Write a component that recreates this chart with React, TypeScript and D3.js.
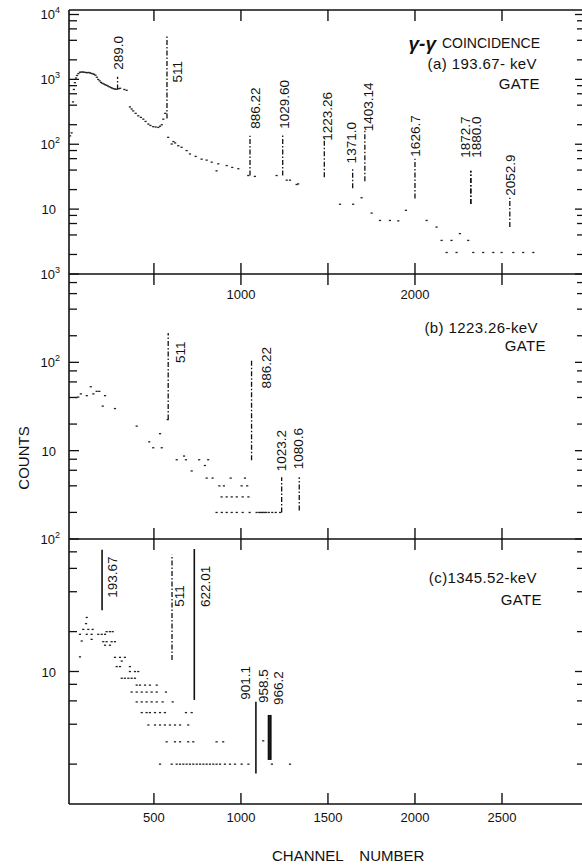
import React, { useRef, useEffect } from 'react';
import * as d3 from 'd3';

// spectrum points: [channel, counts]
const spectrumA: [number, number][] = [
  [18, 135], [27, 150], [35, 450], [40, 700], [46, 890], [52, 1050], [58, 1150], [66, 1230],
  [75, 1290], [84, 1300], [92, 1300], [100, 1290], [108, 1280], [116, 1270], [124, 1280],
  [132, 1260], [140, 1240], [148, 1220], [156, 1200], [164, 1160], [172, 1080], [180, 1000],
  [188, 950], [196, 900], [204, 870], [212, 850], [220, 830], [228, 810], [236, 790],
  [244, 770], [252, 750], [260, 735], [268, 720], [276, 710], [284, 705], [298, 720],
  [306, 730], [330, 700], [343, 680], [362, 377], [372, 350], [381, 327], [395, 300],
  [410, 275], [425, 260], [439, 244], [452, 225], [468, 205], [480, 195], [496, 187],
  [510, 185], [525, 182], [535, 190], [545, 200], [554, 244], [565, 300],
  [582, 128], [602, 101], [612, 110], [622, 105], [640, 95], [659, 90], [688, 80], [707, 71],
  [740, 65], [774, 59], [803, 57], [832, 53], [860, 39], [870, 50], [918, 47], [950, 44],
  [985, 42], [1042, 33], [1080, 32], [1205, 33], [1263, 28], [1282, 28], [1320, 24],
  [1329, 24.5], [1569, 11.9], [1645, 11.9], [1693, 15], [1751, 8.7], [1799, 6.7],
  [1856, 6.7], [1904, 6.6], [1948, 9.6], [2067, 6.7], [2124, 5.3], [2153, 3.3], [2210, 3.3],
  [2258, 4.2], [2306, 3.3], [2182, 2.15], [2239, 2.15], [2335, 2.15], [2392, 2.15],
  [2450, 2.15], [2498, 2.15], [2565, 2.15], [2622, 2.15], [2680, 2.15],
];

const spectrumB: [number, number][] = [
  [55, 40], [65, 40.5], [80, 44], [114, 42], [137, 53], [152, 44], [171, 47], [186, 47],
  [206, 32], [219, 42], [276, 30], [401, 19], [473, 12.6], [496, 10.8], [535, 15.6],
  [545, 10.8], [579, 22.5], [631, 7.9], [673, 8.7], [684, 7.9], [717, 5.9], [760, 7.9],
  [793, 6.8], [812, 7.9], [803, 4.9], [837, 4.9], [876, 4], [902, 4], [941, 4.9], [1004, 4],
  [1023, 4.9], [1036, 4], [889, 3], [918, 3], [947, 3], [976, 3], [1010, 3], [1043, 3],
  [860, 2], [890, 2], [918, 2], [947, 2], [976, 2], [1010, 2], [1050, 2], [1090, 2],
  [1105, 2], [1115, 2], [1125, 2], [1135, 2], [1145, 2], [1160, 2], [1180, 2], [1200, 2],
  [1225, 2],
];

const spectrumC: [number, number][] = [
  [114, 25.6], [110, 23], [94, 20.8], [123, 20.8], [148, 20.8], [75, 19.1], [114, 19.1],
  [142, 19.1], [180, 19.1], [200, 19.1], [219, 19.1], [228, 20], [247, 20], [263, 20],
  [85, 17], [142, 17.5], [209, 16.8], [228, 16.8], [257, 16.8], [276, 16.8], [219, 15.8],
  [247, 15.8], [75, 12.9], [276, 12.8], [305, 12.8], [333, 12.8], [315, 12], [286, 10.9],
  [305, 10.9], [362, 10.9], [362, 10], [391, 10], [410, 10], [315, 8.9], [333, 8.9],
  [353, 8.9], [372, 8.9], [391, 8.9], [401, 7.9], [420, 7.9], [449, 7.9], [477, 7.9],
  [516, 7.9], [372, 7], [401, 7], [430, 7], [458, 7], [487, 7], [516, 7], [569, 7],
  [401, 5.9], [430, 5.9], [458, 5.9], [487, 5.9], [516, 5.9], [550, 5.9], [608, 5.9],
  [430, 4.9], [458, 4.9], [477, 4.9], [506, 4.9], [535, 4.9], [563, 4.9], [684, 4.9],
  [717, 4.9], [468, 3.95], [506, 3.95], [535, 3.95], [563, 3.95], [592, 3.95], [621, 3.95],
  [650, 3.95], [697, 3.95], [573, 2.95], [621, 2.95], [650, 2.95], [697, 2.95], [726, 2.95],
  [860, 2.95], [898, 2.95], [1128, 3], [535, 2], [602, 2], [631, 2], [650, 2], [669, 2],
  [688, 2], [707, 2], [726, 2], [746, 2], [765, 2], [784, 2], [803, 2], [822, 2], [841, 2],
  [860, 2], [880, 2], [908, 2], [937, 2], [966, 2], [1004, 2], [1043, 2], [1178, 2], [1282, 2],
];

// gamma lines: label (keV), channel, counts at foot and at top
const peaksA = [
  { label: '289.0', ch: 291, lo: 700, hi: 1100 },
  { label: '511', ch: 575, lo: 250, hi: 4900 },
  { label: '886.22', ch: 1052, lo: 33, hi: 135 },
  { label: '1029.60', ch: 1240, lo: 33, hi: 145 },
  { label: '1223.26', ch: 1479, lo: 31, hi: 126 },
  { label: '1371.0', ch: 1642, lo: 21, hi: 44 },
  { label: '1403.14', ch: 1712, lo: 27, hi: 170 },
  { label: '1626.7', ch: 2000, lo: 14.6, hi: 60 },
  { label: '1872.7', ch: 2321, lo: 12, hi: 39 },
  { label: '1880.0', ch: 2321, lo: 12, hi: 39 },
  { label: '2052.9', ch: 2545, lo: 5.3, hi: 15 },
];
const peaksB = [
  { label: '511', ch: 582, lo: 22.5, hi: 215 },
  { label: '886.22', ch: 1061, lo: 7.8, hi: 108 },
  { label: '1023.2', ch: 1234, lo: 2, hi: 5 },
  { label: '1080.6', ch: 1335, lo: 2.1, hi: 5 },
];
const peaksC = [
  { label: '193.67', ch: 202, lo: 29, hi: 83 },
  { label: '511', ch: 604, lo: 12.2, hi: 76 },
  { label: '622.01', ch: 732, lo: 6.1, hi: 84 },
  { label: '901.1', ch: 1086, lo: 1.7, hi: 5.9 },
  { label: '958.5', ch: 1160, lo: 2.15, hi: 4.7 },
  { label: '966.2', ch: 1170, lo: 2.15, hi: 4.7 },
];

const solidPeaks = ['193.67', '622.01', '901.1', '958.5', '966.2'];
const heavyPeaks = ['958.5', '966.2'];

// label offsets from the top of each line [dx, dy]
const labelNudge: Record<string, [number, number]> = {
  'a511': [10, 48], 'a1223.26': [3, 3], 'a1371.0': [-1, -4], 'a1403.14': [3, 2],
  'a1626.7': [0, -2], 'a1872.7': [-5.5, -13], 'a1880.0': [5.5, -13], 'a2052.9': [0, -2],
  'a289.0': [0.5, -7], 'a886.22': [5, -7], 'a1029.60': [1.5, -5],
  'b511': [12, 30], 'b886.22': [15, 29], 'b1023.2': [0, -6], 'b1080.6': [-1, -8],
  'c193.67': [10, 48], 'c511': [7, 52], 'c622.01': [11, 58], 'c901.1': [-11, -2],
  'c958.5': [-6, -12], 'c966.2': [8, -10],
};

const xTicks = [500, 1000, 1500, 2000, 2500];
const xLabelsMid = [1000, 2000];
const xLabelsBottom = [500, 1000, 1500, 2000, 2500];
const yLabelsA = [10000, 1000, 100, 10];
const yLabelsB = [1000, 100, 10];
const yLabelsC = [100, 10];

const titlesA = ['(a) 193.67- keV', 'GATE'];
const titlesB = ['(b) 1223.26-keV', 'GATE'];
const titlesC = ['(c)1345.52-keV', 'GATE'];

const FONT = 'Liberation Sans, Arial, Helvetica, sans-serif';
const INK = '#111';

const App = () => {
  const ref = useRef<SVGSVGElement>(null);

  useEffect(() => {
    if (!ref.current) return;
    const svg = d3.select(ref.current);
    svg.selectAll('*').remove();

    const left = 69, right = 585;
    const x = d3.scaleLinear().domain([12, 2977]).range([left, right]);

    const panels = [
      { key: 'a', top: 10, bottom: 274, yMax: 11730, data: spectrumA, peaks: peaksA, yLabels: yLabelsA, titles: titlesA, titleY: [69, 89], titleX: [537, 540] },
      { key: 'b', top: 274, bottom: 539, yMax: 1000, data: spectrumB, peaks: peaksB, yLabels: yLabelsB, titles: titlesB, titleY: [333, 351], titleX: [538, 546] },
      { key: 'c', top: 539, bottom: 804, yMax: 100, data: spectrumC, peaks: peaksC, yLabels: yLabelsC, titles: titlesC, titleY: [583, 605], titleX: [537, 542] },
    ];

    const frame = svg.append('g').attr('stroke', INK).attr('stroke-width', 1.6).attr('fill', 'none');
    frame.append('line').attr('x1', left).attr('x2', left).attr('y1', 10).attr('y2', 804);
    frame.append('line').attr('x1', right).attr('x2', right).attr('y1', 10).attr('y2', 804);
    [10, 274, 539, 804].forEach(yy => {
      frame.append('line').attr('x1', left).attr('x2', right).attr('y1', yy).attr('y2', yy);
    });

    panels.forEach(p => {
      const y = d3.scaleLog().domain([1, p.yMax]).range([p.bottom, p.top]);
      const g = svg.append('g');

      // x ticks, inside top and bottom
      xTicks.forEach(t => {
        g.append('line').attr('x1', x(t)).attr('x2', x(t)).attr('y1', p.top).attr('y2', p.top + 11)
          .attr('stroke', INK).attr('stroke-width', 1.4);
        g.append('line').attr('x1', x(t)).attr('x2', x(t)).attr('y1', p.bottom - 11).attr('y2', p.bottom)
          .attr('stroke', INK).attr('stroke-width', 1.4);
      });

      // y ticks: decades and 2,4,6,8 in between, both sides
      const yt: number[] = [];
      for (let k = 0; k <= 4; k++) {
        [1, 2, 4, 6, 8].forEach(m => {
          const v = m * Math.pow(10, k);
          if (v > 1 && v < p.yMax * 1.001) yt.push(v);
        });
      }
      yt.forEach(v => {
        const major = Math.abs(Math.log10(v) - Math.round(Math.log10(v))) < 1e-9;
        const len = major ? 10 : 8;
        g.append('line').attr('x1', left).attr('x2', left + len).attr('y1', y(v)).attr('y2', y(v))
          .attr('stroke', INK).attr('stroke-width', 1.3);
        g.append('line').attr('x1', right - len).attr('x2', right).attr('y1', y(v)).attr('y2', y(v))
          .attr('stroke', INK).attr('stroke-width', 1.3);
      });

      // y labels
      p.yLabels.forEach(v => {
        const e = Math.round(Math.log10(v));
        const t = g.append('text').attr('y', y(v) + 5).attr('font-family', FONT).attr('font-size', 13)
          .attr('fill', INK).attr('text-anchor', 'end');
        if (e === 1) {
          t.attr('x', 56).text('10');
        } else {
          t.attr('x', 60);
          t.append('tspan').text('10');
          t.append('tspan').attr('dy', -6).attr('font-size', 9).text(String(e));
        }
      });

      // spectrum points
      g.append('g').selectAll('rect').data(p.data).join('rect')
        .attr('x', d => x(d[0]) - 1.1)
        .attr('y', d => y(d[1]) - 0.6)
        .attr('width', 2.2)
        .attr('height', 1.3)
        .attr('fill', '#222');

      // gamma lines
      p.peaks.forEach(pk => {
        const solid = solidPeaks.includes(pk.label);
        const heavy = heavyPeaks.includes(pk.label);
        g.append('line')
          .attr('x1', x(pk.ch)).attr('x2', x(pk.ch))
          .attr('y1', y(pk.lo)).attr('y2', y(pk.hi))
          .attr('stroke', INK)
          .attr('stroke-width', heavy ? 2.2 : solid ? 1.6 : 1.3)
          .attr('stroke-dasharray', solid ? null : '5 2 1.5 2');

        const n = labelNudge[p.key + pk.label] || [2, -6];
        const cx = x(pk.ch) + n[0];
        const by = y(pk.hi) + n[1];
        g.append('text')
          .attr('transform', `translate(${cx + 4.8},${by}) rotate(-90)`)
          .attr('font-family', FONT).attr('font-size', 13.5).attr('fill', INK)
          .text(pk.label);
      });

      // panel titles
      p.titles.forEach((s, i) => {
        g.append('text').attr('x', p.titleX[i]).attr('y', p.titleY[i])
          .attr('text-anchor', 'end').attr('font-family', FONT).attr('font-size', 15)
          .attr('letter-spacing', 0.4).attr('fill', INK).text(s);
      });
    });

    // coincidence heading
    svg.append('text').attr('x', 540).attr('y', 48).attr('text-anchor', 'end')
      .attr('font-family', FONT).attr('font-size', 14).attr('fill', INK).text('COINCIDENCE');
    svg.append('text').attr('x', 436).attr('y', 50).attr('text-anchor', 'end')
      .attr('font-family', FONT).attr('font-size', 19).attr('font-style', 'italic').attr('font-weight', 'bold')
      .attr('fill', INK).text('γ-γ');

    // x tick labels
    xLabelsMid.forEach(t => {
      svg.append('text').attr('x', x(t)).attr('y', 299).attr('text-anchor', 'middle')
        .attr('font-family', FONT).attr('font-size', 13).attr('fill', INK).text(String(t));
    });
    xLabelsBottom.forEach(t => {
      svg.append('text').attr('x', x(t)).attr('y', 822).attr('text-anchor', 'middle')
        .attr('font-family', FONT).attr('font-size', 13).attr('fill', INK).text(String(t));
    });

    // axis titles
    svg.append('text').attr('x', 272).attr('y', 861)
      .attr('font-family', FONT).attr('font-size', 15).attr('word-spacing', 12).attr('fill', INK)
      .text('CHANNEL NUMBER');
    svg.append('text').attr('transform', 'translate(28.5,458) rotate(-90)').attr('text-anchor', 'middle')
      .attr('font-family', FONT).attr('font-size', 15).attr('fill', INK).text('COUNTS');
  }, []);

  return (
    <svg ref={ref} width={582} height={865}
      style={{ position: 'absolute', left: 0, top: 0, background: '#fff', display: 'block' }} />
  );
};

export default App;
